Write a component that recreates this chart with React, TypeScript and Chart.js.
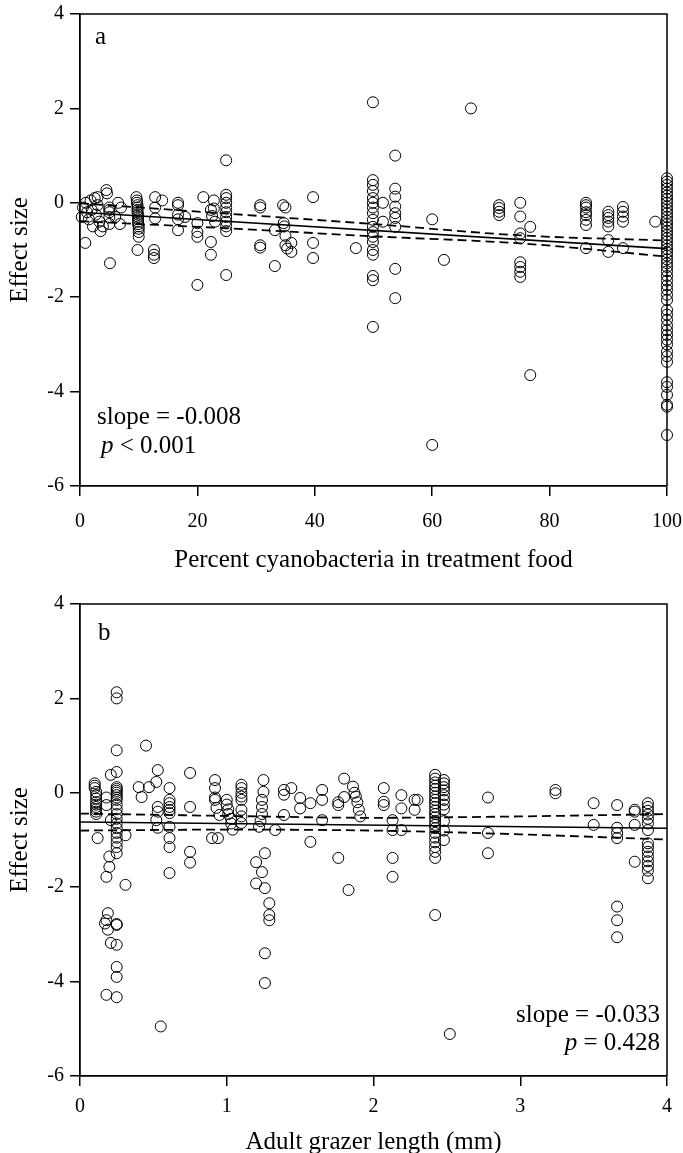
import React, { useEffect, useRef } from "react";
import { Chart, registerables } from "chart.js";

Chart.register(...registerables);

const FONT = '"Liberation Serif", "Times New Roman", serif';

// ---------- Panel a: percent cyanobacteria vs effect size ----------
const cyanoPct = [
  0.3, 0.5, 0.9, 1.0, 1.2, 1.5, 1.8, 2.0, 2.2, 2.5, 2.7, 3.0, 3.0, 3.3, 3.5,
  3.9, 4.5, 4.6, 5.0, 5.0, 5.0, 5.0, 5.0, 5.1, 6.0, 6.5, 6.8, 7.0,
  9.6, 9.7, 9.7, 9.8, 9.8, 9.8, 9.8, 9.9, 9.9, 9.9, 9.9, 9.9, 10, 10, 10, 10, 9.8,
  12.8, 12.8, 12.8, 12.6, 12.6, 12.6, 14, 16.7, 16.7, 16.7, 16.7, 16.7, 17.9,
  20, 20, 20, 20, 21, 22.3, 22.3, 22.3, 22.5, 22.8, 22.8, 23,
  24.9, 24.9, 24.9, 24.9, 24.9, 24.9, 24.9, 24.9, 24.9, 24.9, 24.9,
  30.7, 30.7, 30.7, 30.7, 33.2, 33.2, 34.6, 35, 34.7, 34.8, 35, 35, 35.3, 36, 36,
  39.7, 39.7, 39.7, 47,
  49.9, 49.9, 49.9, 49.9, 49.9, 49.9, 49.9, 49.9, 49.9, 49.9, 49.9, 49.9, 49.9, 49.9, 49.9, 49.9, 49.9, 49.9,
  51.6, 51.6, 53.7, 53.7, 53.7, 53.7, 53.7, 53.7, 53.7, 53.7, 53.7,
  60, 62, 60, 66.6, 71.4, 71.4, 71.4, 71.4,
  75, 75, 75, 75, 75, 75, 75, 75, 76.7, 76.7,
  86.2, 86.2, 86.2, 86.2, 86.2, 86.2, 86.2, 86.2,
  90, 90, 90, 90, 90, 90, 90, 92.5, 92.5, 92.5, 92.5, 92.5, 98,
  100, 100, 100, 100, 100, 100, 100, 100, 100, 100,
  100, 100, 100, 100, 100, 100, 100, 100, 100, 100,
  100, 100, 100, 100, 100, 100, 100, 100, 100, 100,
  100, 100, 100, 100, 100, 100, 100, 100, 100, 100,
  100, 100, 100, 100, 100, 100, 100, 100, 100, 100,
];
const effectA = [
  -0.3, -0.1, -0.85, 0.0, -0.2, -0.35, 0.05, -0.15, -0.5, 0.1, -0.25, 0.12, -0.05, -0.4, -0.6,
  -0.5, 0.27, 0.2, -0.1, -0.15, -0.2, -0.3, -0.45, -1.28, -0.3, 0.0, -0.45, -0.1,
  0.12, 0.05, 0.0, -0.05, -0.1, -0.15, -0.2, -0.25, -0.3, -0.35, -0.4, -0.45, -0.5, -0.55, -0.62, -0.72, -1.0,
  0.12, -0.1, -0.33, -1.0, -1.1, -1.17, 0.05, 0.0, -0.05, -0.25, -0.35, -0.58, -0.3,
  -0.43, -0.62, -0.72, -1.74, 0.12, -0.15, -0.83, -1.1, -0.28, 0.05, -0.12, -0.4,
  0.9, 0.17, 0.1, 0.0, -0.1, -0.2, -0.3, -0.4, -0.5, -0.6, -1.53,
  -0.05, -0.1, -0.9, -0.95, -0.58, -1.34, -0.05, -0.1, -0.43, -0.5, -0.7, -0.9, -0.97, -0.85, -1.04,
  0.12, -0.85, -1.17, -0.96,
  2.13, 0.48, 0.38, 0.25, 0.1, 0.0, -0.1, -0.22, -0.36, -0.51, -0.62, -0.72, -0.83, -1.0, -1.1, -1.55, -1.64, -2.63,
  0.0, -0.4, 1.0, 0.3, 0.13, -0.08, -0.22, -0.32, -0.51, -1.4, -2.02,
  -0.35, -1.21, -5.13, 2.0, -0.05, -0.11, -0.19, -0.26,
  0.0, -0.29, -0.65, -0.75, -1.26, -1.36, -1.46, -1.57, -0.51, -3.65,
  0.0, -0.05, -0.1, -0.2, -0.26, -0.36, -0.47, -0.96,
  -0.19, -0.26, -0.32, -0.4, -0.5, -0.79, -1.04, -0.09, -0.19, -0.29, -0.4, -0.96, -0.4,
  0.52, 0.45, 0.38, 0.3, 0.22, 0.15, 0.08, 0.0, -0.08, -0.15,
  -0.22, -0.3, -0.38, -0.45, -0.52, -0.6, -0.68, -0.75, -0.82, -0.9,
  -0.98, -1.05, -1.12, -1.2, -1.28, -1.36, -1.45, -1.55, -1.65, -1.75,
  -1.84, -1.95, -2.06, -2.27, -2.37, -2.48, -2.6, -2.7, -2.8, -2.9,
  -3.0, -3.15, -3.25, -3.37, -3.8, -3.9, -4.07, -4.28, -4.32, -4.92,
];
const fitAX = [0, 100];
const fitAY = [-0.2, -0.97];
const ciAX = [0, 25, 50, 75, 100];
const ciAUpper = [-0.01, -0.23, -0.45, -0.69, -0.8];
const ciALower = [-0.39, -0.54, -0.71, -0.86, -1.14];
const xTicksA = [0, 20, 40, 60, 80, 100];

// ---------- Panel b: adult grazer length vs effect size ----------
const grazerLen = [
  0.10, 0.10, 0.10, 0.11, 0.11, 0.11, 0.11, 0.11, 0.11, 0.11, 0.11, 0.11, 0.12,
  0.21, 0.18, 0.18, 0.21, 0.20, 0.20, 0.18, 0.19, 0.18, 0.17, 0.19, 0.21, 0.18,
  0.25, 0.25, 0.25, 0.25, 0.25, 0.25, 0.25, 0.25, 0.25, 0.25,
  0.25, 0.25, 0.25, 0.25, 0.25, 0.25, 0.25, 0.25, 0.25, 0.25,
  0.25, 0.25, 0.25, 0.25, 0.25, 0.25, 0.25, 0.25,
  0.31, 0.31, 0.40, 0.42, 0.47, 0.45,
  0.53, 0.52, 0.53, 0.53, 0.52, 0.53, 0.55,
  0.61, 0.61, 0.61, 0.61, 0.61, 0.61, 0.61, 0.61, 0.61, 0.61,
  0.75, 0.75, 0.75, 0.75, 0.92, 0.92, 0.92, 0.92, 0.93, 0.95, 0.90, 0.94,
  1.0, 1.0, 1.01, 1.01, 1.03, 1.03, 1.04, 1.1, 1.1, 1.1, 1.1, 1.1, 1.1, 1.1, 1.1,
  1.25, 1.25, 1.24, 1.24, 1.24, 1.23, 1.22, 1.26, 1.2, 1.24, 1.2, 1.26, 1.29, 1.29, 1.29, 1.26, 1.26,
  1.33, 1.39, 1.39, 1.39, 1.44, 1.5, 1.5, 1.57, 1.57, 1.65, 1.65, 1.65, 1.76, 1.76, 1.76, 1.8, 1.8, 1.83,
  1.86, 1.87, 1.88, 1.89, 1.9, 1.91,
  2.07, 2.07, 2.07, 2.13, 2.13, 2.13, 2.13, 2.19, 2.19, 2.19, 2.28, 2.28, 2.3,
  2.42, 2.42, 2.42, 2.42, 2.42, 2.42, 2.42, 2.42, 2.42, 2.42, 2.42, 2.42,
  2.42, 2.42, 2.42, 2.42, 2.42, 2.42, 2.42, 2.42, 2.42, 2.42, 2.42,
  2.48, 2.48, 2.48, 2.48, 2.48, 2.48, 2.48, 2.48, 2.48, 2.48, 2.48,
  2.52, 2.78, 2.78, 2.78, 3.24, 3.24, 3.5, 3.5,
  3.66, 3.66, 3.66, 3.66, 3.66, 3.66, 3.66, 3.78, 3.78, 3.78, 3.78,
  3.87, 3.87, 3.87, 3.87, 3.87, 3.87, 3.87, 3.87, 3.87, 3.87, 3.87, 3.87, 3.87, 3.87, 3.87,
];
const effectB = [
  0.2, 0.15, 0.1, 0.02, -0.05, -0.12, -0.2, -0.25, -0.3, -0.35, -0.4, -0.45, -0.96,
  0.38, -0.1, -0.26, -0.58, -1.35, -1.57, -1.78, -2.55, -2.7, -2.77, -2.9, -3.18, -4.28,
  2.13, 2.0, 0.9, 0.44, 0.12, 0.08, 0.04, 0.0, -0.05, -0.1,
  -0.15, -0.25, -0.35, -0.45, -0.55, -0.65, -0.75, -0.85, -0.95, -1.05,
  -1.15, -1.28, -2.8, -2.78, -3.22, -3.69, -3.9, -4.33,
  -0.9, -1.95, 0.12, -0.09, 0.12, 1.0,
  0.48, 0.23, -0.3, -0.4, -0.58, -0.74, -4.95,
  0.1, -0.15, -0.22, -0.3, -0.36, -0.43, -0.72, -0.96, -1.15, -1.7,
  0.42, -0.3, -1.25, -1.48, 0.27, 0.1, -0.1, -0.15, -0.32, -0.47, -0.96, -0.96,
  -0.15, -0.25, -0.35, -0.45, -0.55, -0.65, -0.78, 0.17, 0.1, 0.0, -0.08, -0.15, -0.36, -0.5, -0.64,
  0.27, 0.02, -0.15, -0.3, -0.45, -0.6, -0.72, -1.28, -1.47, -1.68, -1.92, -2.02, -2.34, -2.59, -2.7, -3.4, -4.03,
  -0.79, 0.06, -0.04, -0.47, 0.1, -0.11, -0.33, -0.22, -1.04, 0.06, -0.15, -0.58, -0.2, -0.26, -1.38, 0.3, -0.09, -2.06,
  0.13, 0.0, -0.08, -0.2, -0.36, -0.5,
  0.1, -0.19, -0.26, -0.58, -0.79, -1.38, -1.78, -0.05, -0.33, -0.79, -0.15, -0.36, -0.15,
  0.38, 0.3, 0.22, 0.15, 0.08, 0.0, -0.08, -0.15, -0.22, -0.3, -0.38, -0.45,
  -0.52, -0.6, -0.68, -0.75, -0.85, -0.95, -1.05, -1.15, -1.25, -1.38, -2.59,
  0.27, 0.2, 0.12, 0.05, -0.05, -0.15, -0.25, -0.35, -0.6, -0.8, -1.0,
  -5.11, -0.1, -0.85, -1.28, 0.06, -0.01, -0.22, -0.68,
  -0.26, -0.74, -0.85, -0.96, -2.41, -2.7, -3.06, -0.36, -0.4, -0.68, -1.46,
  -0.22, -0.3, -0.38, -0.46, -0.55, -0.65, -0.79, -1.07, -1.15, -1.25, -1.35, -1.45, -1.55, -1.65, -1.81,
];
const fitBX = [0, 4];
const fitBY = [-0.62, -0.75];
const ciBX = [0, 1, 2, 3, 4];
const ciBUpper = [-0.44, -0.49, -0.53, -0.5, -0.45];
const ciBLower = [-0.8, -0.78, -0.8, -0.88, -0.99];
const xTicksB = [0, 1, 2, 3, 4];

const yTicks = [4, 2, 0, -2, -4, -6];

type Part = { text: string; italic?: boolean };
type Note = { parts: Part[]; x: number; y: number; align: "left" | "right"; size: number };

const framePlugin = {
  id: "frame",
  afterDraw(chart: any, _args: any, opts: any) {
    const { ctx, chartArea: a } = chart;
    ctx.save();
    ctx.strokeStyle = "#000";
    ctx.lineWidth = 1.5;
    ctx.beginPath();
    ctx.moveTo(a.left, a.top);
    ctx.lineTo(a.right, a.top);
    ctx.lineTo(a.right, a.bottom);
    ctx.stroke();
    ctx.fillStyle = "#000";
    ctx.textBaseline = "alphabetic";
    const notes: Note[] = opts.notes || [];
    for (const n of notes) {
      const fonts = n.parts.map((p) => `${p.italic ? "italic " : ""}${n.size}px ${FONT}`);
      const widths = n.parts.map((p, i) => {
        ctx.font = fonts[i];
        return ctx.measureText(p.text).width;
      });
      const total = widths.reduce((s, w) => s + w, 0);
      let x = n.align === "right" ? n.x - total : n.x;
      n.parts.forEach((p, i) => {
        ctx.font = fonts[i];
        ctx.textAlign = "left";
        ctx.fillText(p.text, x, n.y);
        x += widths[i];
      });
    }
    ctx.restore();
  },
};

function makeConfig(opts: {
  xs: number[];
  ys: number[];
  fitX: number[];
  fitY: number[];
  ciX: number[];
  ciU: number[];
  ciL: number[];
  xTicks: number[];
  xTitle: string;
  padTop: number;
  padRight: number;
  xAxisHeight: number;
  xTickPad: number;
  xTitlePad: number;
  notes: Note[];
}) {
  const pts = opts.xs.map((x, i) => ({ x, y: opts.ys[i] }));
  const line = (xs: number[], ys: number[]) => xs.map((x, i) => ({ x, y: ys[i] }));
  const xMin = opts.xTicks[0];
  const xMax = opts.xTicks[opts.xTicks.length - 1];
  return {
    type: "scatter" as const,
    data: {
      datasets: [
        {
          type: "scatter",
          data: pts,
          pointRadius: 5.5,
          pointStyle: "circle",
          borderColor: "#000",
          backgroundColor: "rgba(0,0,0,0)",
          borderWidth: 1,
          clip: false,
          order: 2,
        },
        {
          type: "line",
          data: line(opts.fitX, opts.fitY),
          borderColor: "#000",
          borderWidth: 1.6,
          pointRadius: 0,
          fill: false,
          order: 1,
        },
        {
          type: "line",
          data: line(opts.ciX, opts.ciU),
          borderColor: "#000",
          borderWidth: 1.8,
          borderDash: [9, 5],
          pointRadius: 0,
          fill: false,
          cubicInterpolationMode: "monotone",
          order: 1,
        },
        {
          type: "line",
          data: line(opts.ciX, opts.ciL),
          borderColor: "#000",
          borderWidth: 1.8,
          borderDash: [9, 5],
          pointRadius: 0,
          fill: false,
          cubicInterpolationMode: "monotone",
          order: 1,
        },
      ],
    },
    options: {
      responsive: false,
      animation: false as const,
      layout: { padding: { top: opts.padTop, right: opts.padRight, left: 0, bottom: 0 } },
      plugins: {
        legend: { display: false },
        tooltip: { enabled: false },
        frame: { notes: opts.notes },
      },
      scales: {
        x: {
          type: "linear",
          min: xMin,
          max: xMax,
          afterBuildTicks: (scale: any) => {
            scale.ticks = opts.xTicks.map((v) => ({ value: v }));
          },
          afterFit: (scale: any) => {
            scale.height = opts.xAxisHeight;
            scale.paddingLeft = 0;
            scale.paddingRight = 0;
          },
          grid: {
            drawOnChartArea: false,
            drawTicks: true,
            tickLength: 10,
            color: "#000",
            lineWidth: 1.5,
          },
          border: { display: true, color: "#000", width: 1.8 },
          ticks: {
            color: "#000",
            font: { family: FONT, size: 20 },
            padding: opts.xTickPad,
            maxRotation: 0,
          },
          title: {
            display: true,
            text: opts.xTitle,
            color: "#000",
            font: { family: FONT, size: 25, lineHeight: 1 },
            padding: { top: 0, bottom: opts.xTitlePad },
          },
        },
        y: {
          type: "linear",
          min: -6,
          max: 4,
          afterBuildTicks: (scale: any) => {
            scale.ticks = yTicks.map((v) => ({ value: v }));
          },
          afterFit: (scale: any) => {
            scale.width = 80;
            scale.paddingTop = 0;
            scale.paddingBottom = 0;
          },
          grid: {
            drawOnChartArea: false,
            drawTicks: true,
            tickLength: 10,
            color: "#000",
            lineWidth: 1.5,
          },
          border: { display: true, color: "#000", width: 1.8 },
          ticks: {
            color: "#000",
            font: { family: FONT, size: 20 },
            padding: 6,
          },
          title: {
            display: true,
            text: "Effect size",
            color: "#000",
            font: { family: FONT, size: 25, lineHeight: 1 },
            padding: { top: 7.5, bottom: 0 },
          },
        },
      },
    },
    plugins: [framePlugin],
  };
}

export default function App() {
  const refA = useRef<HTMLCanvasElement | null>(null);
  const refB = useRef<HTMLCanvasElement | null>(null);

  useEffect(() => {
    document.body.style.margin = "0";
    const chartA = new Chart(
      refA.current!,
      makeConfig({
        xs: cyanoPct,
        ys: effectA,
        fitX: fitAX,
        fitY: fitAY,
        ciX: ciAX,
        ciU: ciAUpper,
        ciL: ciALower,
        xTicks: xTicksA,
        xTitle: "Percent cyanobacteria in treatment food",
        padTop: 14,
        padRight: 16,
        xAxisHeight: 90,
        xTickPad: 14,
        xTitlePad: 3.5,
        notes: [
          { parts: [{ text: "a" }], x: 95, y: 44, align: "left", size: 25 },
          { parts: [{ text: "slope = -0.008" }], x: 97, y: 424, align: "left", size: 25 },
          { parts: [{ text: "p", italic: true }, { text: " < 0.001" }], x: 101, y: 453, align: "left", size: 25 },
        ],
      }) as any
    );
    const chartB = new Chart(
      refB.current!,
      makeConfig({
        xs: grazerLen,
        ys: effectB,
        fitX: fitBX,
        fitY: fitBY,
        ciX: ciBX,
        ciU: ciBUpper,
        ciL: ciBLower,
        xTicks: xTicksB,
        xTitle: "Adult grazer length (mm)",
        padTop: 28,
        padRight: 16,
        xAxisHeight: 77,
        xTickPad: 9,
        xTitlePad: -1.5,
        notes: [
          { parts: [{ text: "b" }], x: 98, y: 64, align: "left", size: 25 },
          { parts: [{ text: "slope = -0.033" }], x: 660, y: 446, align: "right", size: 25 },
          { parts: [{ text: "p", italic: true }, { text: " = 0.428" }], x: 660, y: 474, align: "right", size: 25 },
        ],
      }) as any
    );
    return () => {
      chartA.destroy();
      chartB.destroy();
    };
  }, []);

  return (
    <div style={{ position: "absolute", left: 0, top: 0, width: 683, height: 1153, background: "#fff" }}>
      <canvas
        ref={refA}
        width={683}
        height={576}
        style={{ position: "absolute", left: 0, top: 0, width: 683, height: 576 }}
      />
      <canvas
        ref={refB}
        width={683}
        height={577}
        style={{ position: "absolute", left: 0, top: 576, width: 683, height: 577 }}
      />
    </div>
  );
}
